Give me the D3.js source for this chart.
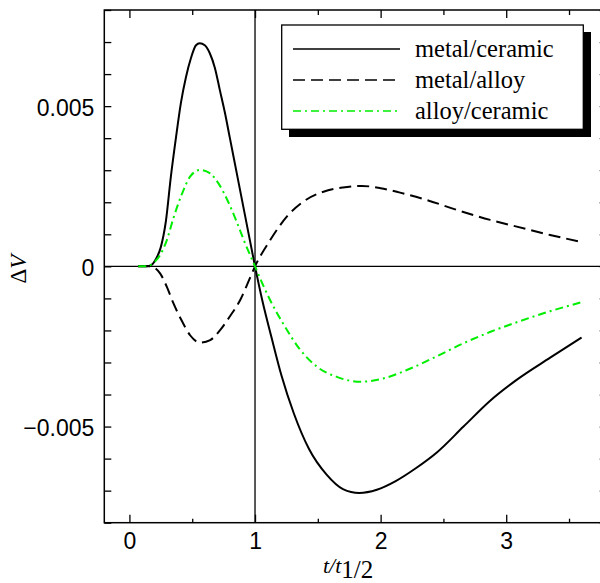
<!DOCTYPE html>
<html>
<head>
<meta charset="utf-8">
<script src="https://cdn.jsdelivr.net/npm/d3@7"></script>
<style>
  body { margin: 0; background: #fff; }
  svg { display: block; }
</style>
</head>
<body>
<svg id="chart" width="600" height="583"></svg>
<script>
// series values (t / t_1/2 , ΔV)
const tMetalCeramic = [0.07, 0.13, 0.17, 0.21, 0.25, 0.29, 0.33, 0.37, 0.41, 0.45, 0.49, 0.53, 0.56, 0.60, 0.64, 0.68, 0.72, 0.76, 0.80, 0.86, 0.92, 1.00, 1.06, 1.13, 1.21, 1.31, 1.43, 1.57, 1.70, 1.83, 1.97, 2.12, 2.28, 2.45, 2.66, 2.87, 3.08, 3.35, 3.60];
const vMetalCeramic = [0, 0, 0.00003, 0.00022, 0.0006, 0.0014, 0.0028, 0.0040, 0.0051, 0.0059, 0.0065, 0.0069, 0.00696, 0.0069, 0.00665, 0.0062, 0.0055, 0.0048, 0.0040, 0.0028, 0.0016, 0, -0.0011, -0.0022, -0.0034, -0.0046, -0.0057, -0.0065, -0.00695, -0.00707, -0.00697, -0.0067, -0.0063, -0.0058, -0.0050, -0.0042, -0.00355, -0.00285, -0.00222];

const tMetalAlloy = [0.07, 0.13, 0.164, 0.244, 0.298, 0.35, 0.417, 0.483, 0.563, 0.643, 0.722, 0.802, 0.882, 0.961, 1.0, 1.121, 1.253, 1.385, 1.545, 1.70, 1.85, 2.0, 2.155, 2.368, 2.607, 2.872, 3.084, 3.349, 3.588];
const vMetalAlloy = [0, 0, 0, -0.00022, -0.00064, -0.00115, -0.0017, -0.00215, -0.00238, -0.0023, -0.00199, -0.00155, -0.00105, -0.00035, 0, 0.00082, 0.00155, 0.00202, 0.00233, 0.00246, 0.00251, 0.00244, 0.0023, 0.00207, 0.00176, 0.00145, 0.00124, 0.00098, 0.00077];

const tAlloyCeramic = [0.07, 0.13, 0.19, 0.244, 0.298, 0.35, 0.417, 0.483, 0.563, 0.643, 0.709, 0.788, 0.855, 0.921, 1.0, 1.06, 1.12, 1.226, 1.359, 1.492, 1.651, 1.84, 2.02, 2.2, 2.45, 2.66, 2.87, 3.08, 3.35, 3.59];
const vAlloyCeramic = [0, 0, 0.0001, 0.00035, 0.00082, 0.0015, 0.00225, 0.0028, 0.00301, 0.0029, 0.00259, 0.002, 0.00138, 0.00072, 0, -0.00055, -0.00105, -0.0018, -0.0026, -0.00313, -0.00345, -0.0036, -0.0035, -0.00325, -0.0028, -0.0024, -0.00205, -0.00175, -0.0014, -0.00113];

const seriesNames = ["metal/ceramic", "metal/alloy", "alloy/ceramic"];

const xTicks = [0, 1, 2, 3];
const xMinorTicks = [0.5, 1.5, 2.5, 3.5];
const yTicks = [-0.005, 0, 0.005];
const yTickLabels = ["\u22120.005", "0", "0.005"];
const yMinorTicks = d3.range(-8, 9).map(i => i / 1000);

// layout
const plotL = 104.3, plotR = 606.7, plotT = 10, plotB = 522.7;
const svg = d3.select("#chart");

const x = d3.scaleLinear().domain([-0.2, 3.8]).range([plotL, plotR]);
const y = d3.scaleLinear().domain([-0.008, 0.008]).range([plotB, plotT]);

const styles = [
  { color: "#000", dash: null },
  { color: "#000", dash: "12,6" },
  { color: "#00ee00", dash: "8,4,2,4" }
];

const series = [
  d3.zip(tMetalCeramic, vMetalCeramic),
  d3.zip(tMetalAlloy, vMetalAlloy),
  d3.zip(tAlloyCeramic, vAlloyCeramic)
];

svg.append("defs").append("clipPath").attr("id", "plot")
  .append("rect")
  .attr("x", plotL).attr("y", plotT)
  .attr("width", plotR - plotL).attr("height", plotB - plotT);

// reference lines at ΔV = 0 and t = t_1/2
svg.append("line")
  .attr("x1", plotL).attr("x2", plotR)
  .attr("y1", y(0)).attr("y2", y(0))
  .attr("stroke", "#000").attr("stroke-width", 1.3);
svg.append("line")
  .attr("x1", x(1)).attr("x2", x(1))
  .attr("y1", plotT).attr("y2", plotB)
  .attr("stroke", "#000").attr("stroke-width", 1.3);

const line = d3.line()
  .x(d => x(d[0]))
  .y(d => y(d[1]))
  .curve(d3.curveMonotoneX);

const curves = svg.append("g").attr("clip-path", "url(#plot)");
series.forEach((s, i) => {
  curves.append("path")
    .datum(s)
    .attr("d", line)
    .attr("fill", "none")
    .attr("stroke", styles[i].color)
    .attr("stroke-width", 2)
    .attr("stroke-dasharray", styles[i].dash);
});

// axes, ticks pointing inward
const tickFont = "Liberation Sans, Arial, Helvetica, sans-serif";

function plain(g) {
  g.select(".domain").remove();
  g.selectAll(".tick line").attr("stroke", "#000").attr("stroke-width", 1.3);
}

svg.append("g")
  .attr("transform", `translate(${plotL},0)`)
  .call(d3.axisLeft(y).tickValues(yMinorTicks).tickSize(-7).tickFormat(""))
  .call(plain);
svg.append("g")
  .attr("transform", `translate(${plotR},0)`)
  .call(d3.axisRight(y).tickValues(yMinorTicks).tickSize(-7).tickFormat(""))
  .call(plain);

const yLab = svg.append("g")
  .attr("transform", `translate(${plotL},0)`)
  .call(d3.axisLeft(y).tickValues(yTicks).tickSize(0).tickPadding(10)
    .tickFormat((d, i) => yTickLabels[i]))
  .call(plain);
yLab.selectAll("text")
  .attr("font-family", tickFont).attr("font-size", 23)
  .attr("fill", "#000").attr("dy", "0.4em");

svg.append("g")
  .attr("transform", `translate(0,${plotB})`)
  .call(d3.axisBottom(x).tickValues(xMinorTicks).tickSize(-4).tickFormat(""))
  .call(plain);
svg.append("g")
  .attr("transform", `translate(0,${plotT})`)
  .call(d3.axisTop(x).tickValues(xMinorTicks).tickSize(-5).tickFormat(""))
  .call(plain);
svg.append("g")
  .attr("transform", `translate(0,${plotT})`)
  .call(d3.axisTop(x).tickValues(xTicks).tickSize(-8).tickFormat(""))
  .call(plain);

const xLab = svg.append("g")
  .attr("transform", `translate(0,${plotB})`)
  .call(d3.axisBottom(x).tickValues(xTicks).tickSize(-8).tickPadding(10)
    .tickFormat(d3.format("d")))
  .call(plain);
xLab.selectAll("text")
  .attr("font-family", tickFont).attr("font-size", 23).attr("fill", "#000");

// frame
svg.append("rect")
  .attr("x", plotL).attr("y", plotT)
  .attr("width", plotR - plotL).attr("height", plotB - plotT)
  .attr("fill", "none").attr("stroke", "#000").attr("stroke-width", 1.5);

// axis titles
const serif = "Liberation Serif, Times New Roman, Times, serif";
const xTitle = svg.append("text")
  .attr("x", 323).attr("y", 573)
  .attr("font-family", serif).attr("fill", "#000");
xTitle.append("tspan").attr("font-style", "italic").attr("font-size", 22).text("t/t");
xTitle.append("tspan").attr("font-size", 25).attr("dy", 5).text("1/2");

const yTitle = svg.append("text")
  .attr("transform", "translate(26,269) rotate(-90)")
  .attr("text-anchor", "middle")
  .attr("font-family", serif).attr("font-size", 23).attr("fill", "#000");
yTitle.append("tspan").text("\u0394");
yTitle.append("tspan").attr("font-style", "italic").text("V");

// legend with drop shadow
const legend = svg.append("g");
legend.append("rect")
  .attr("x", 289).attr("y", 32)
  .attr("width", 302).attr("height", 105)
  .attr("fill", "#000");
legend.append("rect")
  .attr("x", 281.7).attr("y", 25)
  .attr("width", 301.6).attr("height", 104.3)
  .attr("fill", "#fff").attr("stroke", "#000").attr("stroke-width", 1.3);

const rowY = [49, 80, 111];
seriesNames.forEach((name, i) => {
  legend.append("line")
    .attr("x1", 293).attr("x2", 400)
    .attr("y1", rowY[i]).attr("y2", rowY[i])
    .attr("stroke", styles[i].color)
    .attr("stroke-width", 1.6)
    .attr("stroke-dasharray", styles[i].dash);
  legend.append("text")
    .attr("x", 415).attr("y", rowY[i] + 8)
    .attr("font-family", serif).attr("font-size", 24.5)
    .attr("fill", "#000")
    .text(name);
});
</script>
</body>
</html>
